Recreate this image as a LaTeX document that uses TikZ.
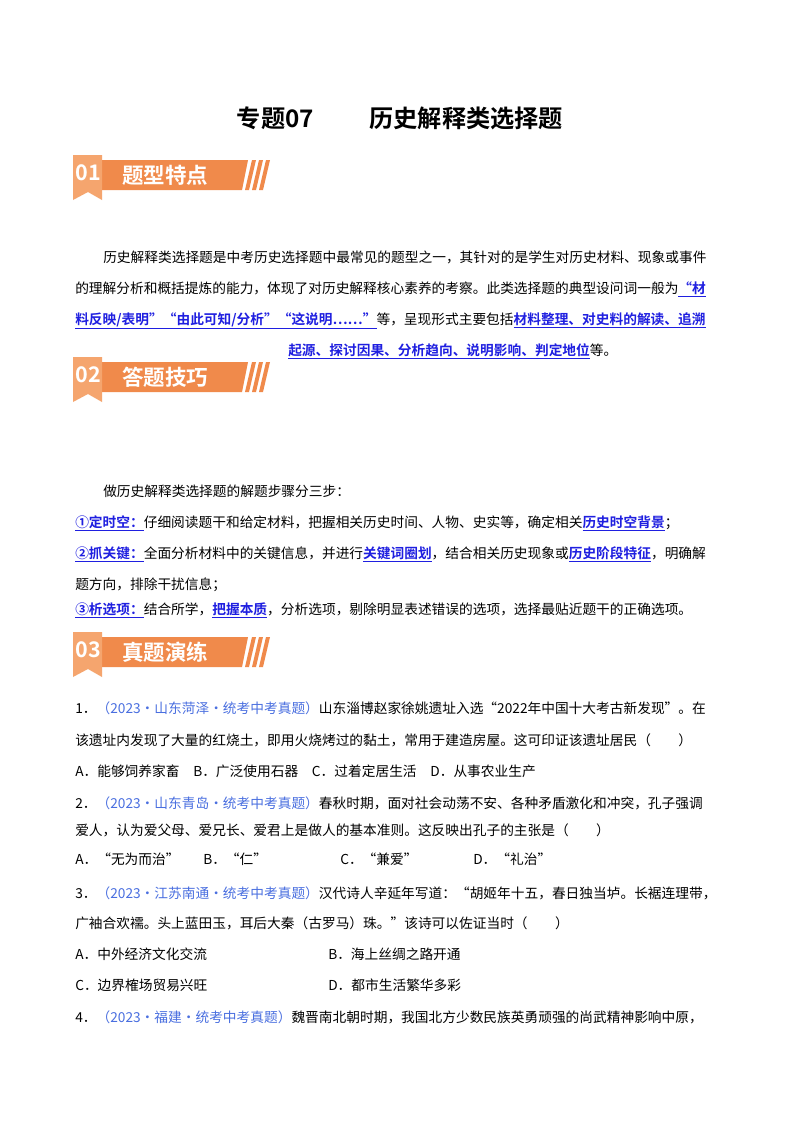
\documentclass[tikz,border=0pt]{standalone}
\usepackage{fontspec}
\setmainfont{Noto Sans CJK SC}[BoldFont={Noto Sans CJK SC Bold}]
\definecolor{lnk}{HTML}{1F1FE0}
\definecolor{qh}{HTML}{4A6FE0}
\definecolor{bandA}{HTML}{F5A56E}
\definecolor{bandB}{HTML}{F08A4B}
\newcommand{\lk}[1]{\textcolor{lnk}{\textbf{\underline{#1}}}}
\newcommand{\qhd}[1]{\textcolor{qh}{#1}}
\tikzset{ln/.style={anchor=base west,inner sep=0pt,font=\fontsize{10.2}{12}\selectfont},
 bt/.style={text=white,font=\bfseries\fontsize{16}{18}\selectfont,inner sep=0pt}}
\newcommand{\banner}[4]{%
 \fill[bandB] (100,#2+5) -- (248,#2+5) -- (242,#2+35) -- (100,#2+35) -- cycle;
 \fill[bandA] (73,#2) -- (102,#2) -- (102,#2+45) -- (88,#2+37) -- (73,#2+45) -- cycle;
 \foreach \dx in {0,7,14}{\fill[bandB] (252+\dx,#2+5) -- (256+\dx,#2+5) -- (249+\dx,#2+35) -- (245+\dx,#2+35) -- cycle;}
 \node[bt] (#4n) at (88,#2+18) {#1};
 \node[bt,anchor=west] (#4t) at (122,#2+20) {#3};}
\begin{document}
\begin{tikzpicture}[x=0.744pt,y=-0.744pt]
\useasboundingbox (0,0) rectangle (800,1132);
\fill[white] (0,0) rectangle (800,1132);
\node[inner sep=0pt,font=\bfseries\fontsize{18}{20}\selectfont] (title) at (400,118) {专题07\hspace{2.3em}历史解释类选择题};
\banner{01}{155}{题型特点}{b1}
\node[ln] (p1) at (103,262) {历史解释类选择题是中考历史选择题中最常见的题型之一，其针对的是学生对历史材料、现象或事件};
\node[ln] (p2) at (75,293) {的理解分析和概括提炼的能力，体现了对历史解释核心素养的考察。此类选择题的典型设问词一般为\lk{“材}};
\node[ln] (p3) at (75,324) {\lk{料反映/表明”“由此可知/分析”“这说明……”}等，呈现形式主要包括\lk{材料整理、对史料的解读、追溯}};
\node[ln] (p4) at (288,355) {\lk{起源、探讨因果、分析趋向、说明影响、判定地位}等。};
\banner{02}{357}{答题技巧}{b2}
\node[ln] (s0) at (103,496) {做历史解释类选择题的解题步骤分三步：};
\node[ln] (s1) at (75,527) {\lk{①定时空：}仔细阅读题干和给定材料，把握相关历史时间、人物、史实等，确定相关\lk{历史时空背景}；};
\node[ln] (s2) at (75,558) {\lk{②抓关键：}全面分析材料中的关键信息，并进行\lk{关键词圈划}，结合相关历史现象或\lk{历史阶段特征}，明确解};
\node[ln] (s3) at (75,589) {题方向，排除干扰信息；};
\node[ln] (s4) at (75,614) {\lk{③析选项：}结合所学，\lk{把握本质}，分析选项，剔除明显表述错误的选项，选择最贴近题干的正确选项。};
\banner{03}{632}{真题演练}{b3}
\node[ln] (q1a) at (75,713) {1．\qhd{（2023·山东菏泽·统考中考真题）}山东淄博赵家徐姚遗址入选“2022年中国十大考古新发现”。在};
\node[ln] (q1b) at (75,745) {该遗址内发现了大量的红烧土，即用火烧烤过的黏土，常用于建造房屋。这可印证该遗址居民（\hspace{2em}）};
\node[ln] (q1c) at (75,776) {A．能够饲养家畜\hspace{1em}B．广泛使用石器\hspace{1em}C．过着定居生活\hspace{1em}D．从事农业生产};
\node[ln] (q2a) at (75,808) {2．\qhd{（2023·山东青岛·统考中考真题）}春秋时期，面对社会动荡不安、各种矛盾激化和冲突，孔子强调};
\node[ln] (q2b) at (75,835) {爱人，认为爱父母、爱兄长、爱君上是做人的基本准则。这反映出孔子的主张是（\hspace{2em}）};
\node[ln] (q2c) at (75,864) {A．“无为而治”};
\node[ln] (q2d) at (203,864) {B．“仁”};
\node[ln] (q2e) at (340,864) {C．“兼爱”};
\node[ln] (q2f) at (473,864) {D．“礼治”};
\node[ln] (q3a) at (75,898) {3．\qhd{（2023·江苏南通·统考中考真题）}汉代诗人辛延年写道：“胡姬年十五，春日独当垆。长裾连理带，};
\node[ln] (q3b) at (75,928) {广袖合欢襦。头上蓝田玉，耳后大秦（古罗马）珠。”该诗可以佐证当时（\hspace{2em}）};
\node[ln] (q3c) at (75,959) {A．中外经济文化交流};
\node[ln] (q3d) at (328,959) {B．海上丝绸之路开通};
\node[ln] (q3e) at (75,990) {C．边界榷场贸易兴旺};
\node[ln] (q3f) at (328,990) {D．都市生活繁华多彩};
\node[ln] (q4a) at (75,1022) {4．\qhd{（2023·福建·统考中考真题）}魏晋南北朝时期，我国北方少数民族英勇顽强的尚武精神影响中原，};
\end{tikzpicture}
\end{document}
